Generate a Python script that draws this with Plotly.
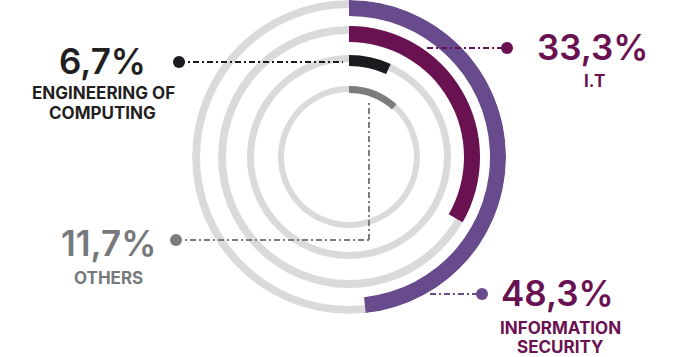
import plotly.graph_objects as go

# ---- data ----
categories = ["INFORMATION SECURITY", "I.T", "ENGINEERING OF COMPUTING", "OTHERS"]
values = [48.3, 33.3, 6.7, 11.7]
value_labels = ["48,3%", "33,3%", "6,7%", "11,7%"]
name_lines = [["INFORMATION", "SECURITY"], ["I.T"], ["ENGINEERING OF", "COMPUTING"], ["OTHERS"]]

# ---- styles ----
W, H = 675, 357
CX, CY = 349, 157
R_MAX = 157
bar_colors = ["#684B8D", "#6A1151", "#1B1A1F", "#7A7C7E"]
text_colors = ["#6A1151", "#6A1151", "#231F20", "#77787B"]
dot_colors = ["#684B8D", "#6A1151", "#1B1A1F", "#7A7C7E"]
ring_outer = [157, 131, 102, 71]
bar_thick = [16, 16, 11, 7]
track_thick = [8, 8, 7, 6]
TRACK = "#DADADA"
FONT = "Inter"

fig = go.Figure()

# background tracks (two halves each)
for i in range(len(values)):
    fig.add_trace(go.Barpolar(
        r=[track_thick[i]] * 2, base=[ring_outer[i] - track_thick[i]] * 2,
        theta=[90, 270], width=[180, 180],
        marker=dict(color=TRACK, line=dict(width=0)),
        hoverinfo="skip", showlegend=False))

# value arcs
for i, v in enumerate(values):
    ang = v * 3.6
    fig.add_trace(go.Barpolar(
        r=[bar_thick[i]], base=[ring_outer[i] - bar_thick[i]],
        theta=[ang / 2], width=[ang], name=categories[i],
        marker=dict(color=bar_colors[i], line=dict(width=0)),
        hovertemplate=f"{categories[i]}: {value_labels[i]}<extra></extra>",
        showlegend=False))


def px(x):
    return x / W


def py(y):
    return 1 - y / H


DASH = "6px,3px,2px,3px"
leaders = [
    dict(pts=[(430, 294), (482, 294)], dot=(482, 294)),
    dict(pts=[(427, 48), (507, 48)], dot=(507, 48)),
    dict(pts=[(179, 62), (343, 62)], dot=(179, 62)),
    dict(pts=[(176, 240), (369, 240), (369, 103)], dot=(176, 240)),
]
label_pos = [
    dict(val=(557, 293), names=[(560, 328), (560, 347)]),
    dict(val=(593, 47), names=[(594, 81)]),
    dict(val=(102, 61), names=[(103, 93.5), (102, 112.5)]),
    dict(val=(108, 243), names=[(108, 278)]),
]

shapes = []
for i, ld in enumerate(leaders):
    p = ld["pts"]
    for (x0, y0), (x1, y1) in zip(p[:-1], p[1:]):
        shapes.append(dict(type="line", xref="paper", yref="paper",
                           x0=px(x0), y0=py(y0), x1=px(x1), y1=py(y1),
                           line=dict(color=dot_colors[i], width=2, dash=DASH),
                           layer="above"))
    dx, dy = ld["dot"]
    rr = 6
    shapes.append(dict(type="circle", xref="paper", yref="paper",
                       x0=px(dx - rr), x1=px(dx + rr), y0=py(dy + rr), y1=py(dy - rr),
                       fillcolor=dot_colors[i], line=dict(width=0), layer="above"))

annotations = []
for i in range(len(values)):
    lp = label_pos[i]
    vx, vy = lp["val"]
    annotations.append(dict(x=px(vx), y=py(vy), xref="paper", yref="paper",
                            text=value_labels[i], showarrow=False,
                            xanchor="center", yanchor="middle",
                            font=dict(family=FONT, size=35, color=text_colors[i], weight=600)))
    for line_txt, (nx, ny) in zip(name_lines[i], lp["names"]):
        annotations.append(dict(x=px(nx), y=py(ny), xref="paper", yref="paper",
                                text=line_txt, showarrow=False,
                                xanchor="center", yanchor="middle",
                                font=dict(family=FONT, size=17, color=text_colors[i], weight=700)))

fig.update_layout(
    width=W, height=H,
    margin=dict(l=0, r=0, t=0, b=0),
    paper_bgcolor="white", plot_bgcolor="white",
    showlegend=False,
    polar=dict(
        domain=dict(x=[px(CX - R_MAX), px(CX + R_MAX)], y=[py(CY + R_MAX), py(CY - R_MAX)]),
        bgcolor="rgba(0,0,0,0)",
        radialaxis=dict(visible=False, range=[0, R_MAX]),
        angularaxis=dict(visible=False, rotation=90, direction="clockwise"),
        barmode="overlay", bargap=0,
    ),
    shapes=shapes,
    annotations=annotations,
)

fig.write_html("out.html", config={"displayModeBar": False},
               post_script="document.body.style.margin='0';document.body.style.overflow='hidden';")
